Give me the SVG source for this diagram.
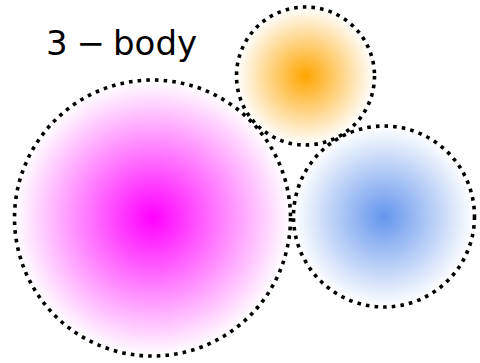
<svg xmlns="http://www.w3.org/2000/svg" width="480" height="363" viewBox="0 0 480 363">
<style>
.ring{stroke:#000;stroke-width:3.6;stroke-dasharray:3.6 5.1;}
.lbl{font-family:"DejaVu Sans",sans-serif;font-size:34px;fill:#000;}
</style>
<defs>
<radialGradient id="gm"><stop offset="0" stop-color="#ff00ff"/><stop offset="1" stop-color="#ff00ff" stop-opacity="0"/></radialGradient>
<radialGradient id="go"><stop offset="0" stop-color="#ffa500"/><stop offset="1" stop-color="#ffa500" stop-opacity="0"/></radialGradient>
<radialGradient id="gb"><stop offset="0" stop-color="#6495ed"/><stop offset="1" stop-color="#6495ed" stop-opacity="0"/></radialGradient>
</defs>
<rect width="480" height="363" fill="#fff"/>
<g id="body-magenta"><circle cx="152.5" cy="218" r="138" fill="url(#gm)" class="ring"/></g>
<g id="body-orange"><circle cx="305.5" cy="76" r="69" fill="url(#go)" class="ring"/></g>
<g id="body-blue"><circle cx="384" cy="216.5" r="90.5" fill="url(#gb)" class="ring"/></g>
<g id="label"><text class="lbl" y="55"><tspan x="46">3</tspan><tspan x="76.5">−</tspan><tspan x="113">body</tspan></text></g>
</svg>
